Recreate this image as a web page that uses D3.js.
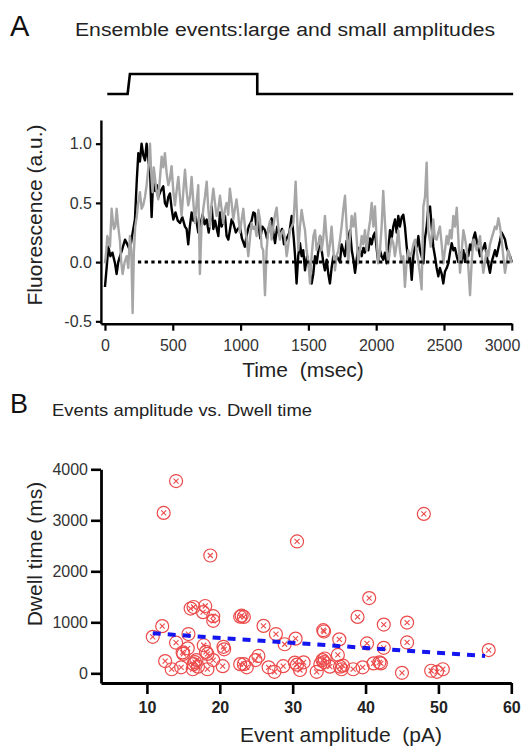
<!DOCTYPE html>
<html>
<head>
<meta charset="utf-8">
<script src="https://cdn.jsdelivr.net/npm/d3@7"></script>
<style>
  body { margin: 0; background: #fff; }
  svg text { font-family: "Liberation Sans", Arial, sans-serif; white-space: pre; }
</style>
</head>
<body>
<div id="chart"></div>
<script>
// ---- data ----
// stimulus step (time in ms, level 0/1)
const stimTime = [17, 167, 184, 1123, 1123, 3010];
const stimLevel = [0, 0, 1, 1, 0, 0];

// ensemble trace, large amplitude events (black) [ms, a.u.]
const blackTrace = [[0,-0.21],[12,-0.05],[25,0.13],[40,0.05],[55,0.08],[74,-0.01],[86,-0.1],[98,0.0],[111,0.05],[125,0.1],[148,0.19],[165,0.15],[184,0.1],[200,0.22],[221,0.36],[235,0.7],[246,0.92],[258,0.85],[270,1.0],[283,0.9],[295,0.86],[307,1.0],[320,0.85],[332,0.78],[344,0.38],[356,0.72],[370,0.6],[382,0.65],[393,0.55],[410,0.6],[430,0.64],[442,0.5],[455,0.47],[467,0.55],[479,0.58],[492,0.45],[504,0.36],[520,0.42],[537,0.35],[553,0.33],[570,0.38],[590,0.3],[602,0.28],[614,0.15],[626,0.3],[639,0.42],[652,0.35],[670,0.38],[688,0.25],[700,0.3],[720,0.4],[735,0.32],[750,0.36],[765,0.25],[787,0.47],[799,0.28],[812,0.35],[836,0.22],[848,0.42],[860,0.3],[885,0.39],[897,0.22],[910,0.19],[934,0.36],[946,0.33],[965,0.25],[980,0.28],[995,0.3],[1010,0.2],[1032,0.13],[1044,0.22],[1060,0.3],[1081,0.35],[1094,0.42],[1106,0.41],[1118,0.28],[1130,0.34],[1145,0.2],[1160,0.3],[1180,0.27],[1195,0.2],[1210,0.3],[1229,0.37],[1242,0.25],[1254,0.16],[1270,0.3],[1290,0.22],[1305,0.28],[1320,0.15],[1340,0.2],[1360,0.25],[1377,0.39],[1392,0.2],[1402,0.05],[1413,-0.18],[1425,0.05],[1438,0.16],[1450,0.05],[1462,0.1],[1475,-0.07],[1490,0.05],[1500,0.0],[1512,-0.1],[1524,-0.18],[1536,-0.1],[1549,0.05],[1561,-0.01],[1574,0.1],[1586,0.22],[1598,0.1],[1610,0.0],[1622,-0.07],[1635,0.02],[1647,-0.1],[1659,-0.18],[1671,-0.05],[1684,0.05],[1696,-0.02],[1709,0.05],[1733,0.0],[1745,0.15],[1757,0.1],[1770,0.05],[1782,0.18],[1794,0.2],[1807,0.27],[1820,0.1],[1832,0.02],[1844,-0.09],[1856,0.02],[1868,0.12],[1881,0.1],[1893,0.05],[1905,0.12],[1917,0.08],[1930,0.16],[1942,0.1],[1955,0.2],[1967,0.15],[1979,0.22],[1991,0.25],[2003,0.12],[2015,0.0],[2028,0.1],[2040,0.05],[2052,0.02],[2065,0.08],[2077,-0.01],[2089,0.1],[2102,0.27],[2114,0.2],[2126,0.3],[2139,0.36],[2151,0.25],[2163,0.39],[2175,0.3],[2188,0.38],[2200,0.4],[2212,0.3],[2225,0.13],[2237,0.0],[2249,0.05],[2262,-0.15],[2274,0.05],[2286,0.16],[2299,0.13],[2311,0.22],[2323,0.1],[2335,0.05],[2348,-0.01],[2360,0.2],[2372,0.3],[2384,0.45],[2397,0.47],[2409,0.3],[2421,0.13],[2433,0.05],[2446,-0.05],[2458,-0.12],[2470,-0.05],[2483,-0.1],[2495,-0.18],[2507,-0.08],[2520,-0.05],[2532,-0.01],[2544,0.08],[2557,0.16],[2569,0.1],[2581,0.12],[2594,0.05],[2606,0.0],[2618,0.08],[2631,0.02],[2643,0.1],[2655,0.0],[2668,0.08],[2679,0.05],[2692,0.15],[2704,0.1],[2717,0.2],[2729,0.25],[2741,0.18],[2753,0.12],[2766,0.05],[2778,0.1],[2790,0.12],[2802,0.16],[2815,0.05],[2827,-0.02],[2839,-0.09],[2851,0.0],[2864,0.05],[2876,0.1],[2888,0.05],[2901,0.12],[2913,0.18],[2925,0.25],[2938,0.22],[2950,0.19],[2962,0.12],[2975,0.08],[2987,0.05],[3000,0.0]];

// ensemble trace, small amplitude events (grey) [ms, a.u.]
const greyTrace = [[0,-0.01],[10,0.1],[17,0.22],[27,0.18],[37,0.13],[49,0.45],[58,0.35],[66,0.28],[76,0.3],[86,0.45],[98,0.3],[111,0.17],[120,0.0],[130,-0.1],[145,0.0],[160,0.05],[172,-0.05],[184,0.22],[194,0.1],[204,-0.43],[213,0.08],[223,0.3],[233,0.37],[245,0.5],[258,0.59],[270,0.45],[282,0.48],[295,0.55],[307,0.65],[320,0.8],[332,1.0],[341,0.75],[351,0.59],[360,0.8],[368,0.72],[380,0.6],[393,0.53],[405,0.7],[418,0.89],[430,0.8],[442,0.92],[455,0.75],[467,0.65],[479,0.7],[491,0.81],[504,0.6],[516,0.48],[528,0.6],[541,0.72],[553,0.55],[565,0.39],[578,0.6],[590,0.78],[602,0.6],[614,0.48],[627,0.55],[639,0.72],[652,0.5],[664,0.33],[676,0.5],[688,0.65],[700,-0.1],[712,0.3],[725,0.45],[737,0.55],[750,0.68],[762,0.45],[774,0.3],[787,0.5],[799,0.62],[811,0.5],[823,0.39],[836,0.45],[848,0.56],[860,0.45],[872,0.33],[885,0.45],[897,0.5],[909,0.4],[921,0.62],[934,0.5],[946,0.36],[958,0.45],[970,0.53],[983,0.4],[995,0.25],[1007,0.35],[1020,0.45],[1032,0.3],[1044,0.2],[1057,0.05],[1069,0.2],[1081,0.33],[1094,0.28],[1106,0.3],[1118,0.22],[1131,0.44],[1143,0.36],[1155,0.13],[1167,0.1],[1180,-0.28],[1192,0.1],[1204,0.27],[1217,0.35],[1229,0.19],[1241,0.3],[1254,0.4],[1266,0.46],[1278,0.3],[1290,0.19],[1303,0.25],[1315,0.27],[1327,0.2],[1340,0.05],[1352,0.15],[1364,0.27],[1377,0.3],[1389,0.33],[1398,0.5],[1406,0.68],[1416,0.4],[1426,0.1],[1438,0.3],[1450,0.44],[1462,0.35],[1475,0.27],[1487,0.1],[1500,0.0],[1512,-0.18],[1524,0.05],[1537,0.22],[1549,0.27],[1561,0.1],[1574,0.15],[1586,0.22],[1598,0.1],[1610,0.2],[1622,0.39],[1635,0.2],[1647,0.05],[1659,0.15],[1671,0.3],[1684,0.1],[1696,-0.07],[1708,0.05],[1721,0.1],[1733,0.19],[1745,0.3],[1758,0.45],[1770,0.56],[1782,0.3],[1794,-0.01],[1806,0.2],[1819,0.39],[1831,0.3],[1844,0.41],[1856,0.2],[1868,-0.01],[1881,0.1],[1893,0.22],[1905,0.15],[1917,0.27],[1930,0.1],[1942,0.25],[1955,0.35],[1967,0.5],[1979,0.3],[1991,0.47],[2003,0.2],[2015,-0.01],[2028,0.1],[2040,0.3],[2052,0.6],[2064,0.35],[2077,0.1],[2089,-0.01],[2101,0.1],[2114,0.2],[2126,0.16],[2138,0.05],[2151,0.15],[2163,0.27],[2175,0.1],[2188,0.0],[2200,0.05],[2212,-0.21],[2224,0.0],[2237,0.1],[2249,0.05],[2262,0.08],[2274,0.15],[2286,0.19],[2298,0.1],[2311,0.0],[2323,-0.1],[2335,-0.23],[2348,0.47],[2360,0.55],[2372,0.84],[2384,0.27],[2402,0.13],[2412,0.25],[2421,0.36],[2433,0.2],[2446,0.19],[2458,0.25],[2470,0.3],[2483,0.15],[2495,-0.01],[2507,0.1],[2520,0.22],[2532,0.15],[2544,0.27],[2556,0.2],[2569,0.39],[2581,0.3],[2594,0.46],[2606,0.2],[2618,-0.09],[2631,0.1],[2643,0.27],[2655,0.2],[2668,0.1],[2680,-0.05],[2692,-0.28],[2704,0.0],[2717,0.19],[2729,0.15],[2741,0.1],[2754,0.15],[2766,0.22],[2778,0.05],[2790,-0.09],[2802,0.0],[2815,0.1],[2827,0.05],[2839,0.15],[2851,0.2],[2864,0.25],[2876,0.3],[2888,0.28],[2901,0.37],[2913,0.3],[2925,0.19],[2937,0.05],[2950,-0.09],[2962,0.0],[2974,0.1],[2987,0.05],[2999,-0.01]];

// zero baseline (dotted)
const baselineTime = [243, 3010];

// panel B: event amplitude (pA) vs dwell time (ms)
const events = [[14.0,3770],[12.3,3145],[18.7,2310],[16.4,1300],[16.0,1270],[18.0,1320],[17.7,1200],[19.1,1120],[19.1,1030],[12.1,925],[10.8,715],[15.7,770],[14.0,600],[14.9,410],[15.0,380],[15.6,490],[17.8,550],[18.1,420],[18.3,380],[20.5,520],[20.6,470],[19.1,260],[12.5,240],[13.4,80],[14.7,117],[16.4,180],[16.6,220],[16.8,260],[16.3,80],[17.0,130],[18.3,80],[20.4,140],[22.8,1110],[22.8,180],[30.6,2585],[23.3,1105],[23.0,1130],[26.0,930],[27.7,770],[28.9,570],[30.4,680],[34.2,845],[34.3,820],[36.4,665],[38.9,1105],[40.5,1475],[40.2,585],[23.3,180],[23.7,117],[24.9,260],[25.3,340],[26.7,117],[27.5,30],[28.7,140],[30.3,210],[30.6,170],[31.0,65],[31.5,215],[33.3,30],[33.8,180],[34.1,260],[34.3,220],[34.4,290],[35.1,130],[36.2,360],[36.5,130],[36.7,80],[36.9,150],[38.3,80],[39.6,117],[41.1,195],[48.0,3125],[42.5,955],[45.7,995],[45.7,605],[42.5,500],[42.1,195],[41.9,215],[45.0,10],[49.0,50],[49.8,30],[50.6,80],[56.9,455]];

// linear fit end points
const fitAmp = [10.8, 56.4];
const fitDwell = [784, 339];

// tick values
const timeTicks = [0, 500, 1000, 1500, 2000, 2500, 3000];
const fluorTicks = [-0.5, 0.0, 0.5, 1.0];
const ampTicks = [10, 20, 30, 40, 50, 60];
const dwellTicks = [0, 1000, 2000, 3000, 4000];

const W = 524, H = 749;
const svg = d3.select("#chart").append("svg")
    .attr("width", W)
    .attr("height", H)
    .style("background", "#fff");

// ================= Panel A =================
const xA = d3.scaleLinear().domain([-30, 3000]).range([100.9, 511.8]);
const yA = d3.scaleLinear().domain([-0.52, 1.2]).range([323.7, 120]);
const yStim = d3.scaleLinear().domain([0, 1]).range([94, 74]);

svg.append("text")
    .attr("x", 10).attr("y", 36)
    .attr("font-size", 29)
    .attr("fill", "#111")
    .text("A");

svg.append("text")
    .attr("x", 75).attr("y", 36)
    .attr("font-size", 18)
    .attr("textLength", 420)
    .attr("lengthAdjust", "spacingAndGlyphs")
    .attr("fill", "#222")
    .text("Ensemble events:large and small amplitudes");

// stimulus
svg.append("path")
    .datum(stimTime.map((t, i) => [t, stimLevel[i]]))
    .attr("fill", "none")
    .attr("stroke", "#000")
    .attr("stroke-width", 2.6)
    .attr("d", d3.line().x(d => xA(d[0])).y(d => yStim(d[1])));

// traces
const lineA = d3.line().x(d => xA(d[0])).y(d => yA(d[1]));

svg.append("path")
    .datum(blackTrace)
    .attr("fill", "none")
    .attr("stroke", "#000")
    .attr("stroke-width", 2.4)
    .attr("stroke-linejoin", "round")
    .attr("d", lineA);

svg.append("path")
    .datum(greyTrace)
    .attr("fill", "none")
    .attr("stroke", "#a6a6a6")
    .attr("stroke-width", 2.4)
    .attr("stroke-linejoin", "round")
    .attr("d", lineA);

// dotted zero line
svg.append("line")
    .attr("x1", xA(baselineTime[0])).attr("x2", xA(baselineTime[1]))
    .attr("y1", yA(0)).attr("y2", yA(0))
    .attr("stroke", "#000")
    .attr("stroke-width", 3)
    .attr("stroke-dasharray", "3.3,3.4");

// axes
const axA_x = svg.append("g")
    .attr("transform", `translate(0,${yA(-0.52)})`)
    .call(d3.axisBottom(xA).tickValues(timeTicks).tickFormat(d3.format("d")).tickSize(7).tickPadding(9).tickSizeOuter(0));
const axA_y = svg.append("g")
    .attr("transform", `translate(${xA(-30)},0)`)
    .call(d3.axisLeft(yA).tickValues(fluorTicks).tickFormat(d => d.toFixed(1)).tickSize(5).tickPadding(4).tickSizeOuter(0));

[axA_x, axA_y].forEach(g => {
    g.select(".domain").attr("stroke", "#000").attr("stroke-width", 2.4);
    g.selectAll(".tick line").attr("stroke", "#000").attr("stroke-width", 2.2);
    g.selectAll(".tick text").attr("font-size", 16).attr("fill", "#333")
        .style("font-family", "'Liberation Sans', Arial, sans-serif");
});
// last time label sits left of its tick, as in the original
axA_x.selectAll(".tick text").filter(d => d === 3000)
    .attr("text-anchor", "end").attr("dx", 8);

svg.append("text")
    .attr("x", 303).attr("y", 377)
    .attr("text-anchor", "middle")
    .attr("font-size", 21)
    .attr("fill", "#222")
    .text("Time  (msec)");

svg.append("text")
    .attr("transform", "translate(42,215) rotate(-90)")
    .attr("text-anchor", "middle")
    .attr("font-size", 21)
    .attr("fill", "#222")
    .text("Fluorescence (a.u.)");

// ================= Panel B =================
const xB = d3.scaleLinear().domain([3.7, 60]).range([101, 511.3]);
const yB = d3.scaleLinear().domain([-190, 4000]).range([683, 469.3]);

svg.append("text")
    .attr("x", 10).attr("y", 413)
    .attr("font-size", 27)
    .attr("fill", "#111")
    .text("B");

svg.append("text")
    .attr("x", 52).attr("y", 416)
    .attr("font-size", 17)
    .attr("textLength", 260)
    .attr("lengthAdjust", "spacingAndGlyphs")
    .attr("fill", "#222")
    .text("Events amplitude vs. Dwell time");

// markers: circle with x
const marks = svg.append("g").selectAll("g")
    .data(events)
    .enter().append("g")
    .attr("transform", d => `translate(${xB(d[0])},${yB(d[1])})`);

marks.append("circle")
    .attr("r", 6.5)
    .attr("fill", "none")
    .attr("stroke", "#ec4a4a")
    .attr("stroke-width", 1.2);
marks.append("path")
    .attr("d", "M-2.5,-2.5L2.5,2.5M-2.5,2.5L2.5,-2.5")
    .attr("stroke", "#ec4a4a")
    .attr("stroke-width", 1.1);

// fit line
svg.append("path")
    .datum(fitAmp.map((a, i) => [a, fitDwell[i]]))
    .attr("fill", "none")
    .attr("stroke", "#1515f0")
    .attr("stroke-width", 4)
    .attr("stroke-dasharray", "8,7")
    .attr("d", d3.line().x(d => xB(d[0])).y(d => yB(d[1])));

const axB_x = svg.append("g")
    .attr("transform", `translate(0,${yB(-190)})`)
    .call(d3.axisBottom(xB).tickValues(ampTicks).tickSize(11).tickPadding(8).tickSizeOuter(0));
const axB_y = svg.append("g")
    .attr("transform", `translate(${xB(3.7)},0)`)
    .call(d3.axisLeft(yB).tickValues(dwellTicks).tickFormat(d3.format("d")).tickSize(10).tickPadding(3).tickSizeOuter(0));

[axB_x, axB_y].forEach(g => {
    g.select(".domain").attr("stroke", "#000").attr("stroke-width", 2.8);
    g.selectAll(".tick line").attr("stroke", "#000").attr("stroke-width", 2.6);
    g.selectAll(".tick text").attr("font-size", 16).attr("fill", "#333")
        .style("font-family", "'Liberation Sans', Arial, sans-serif");
});
axB_x.selectAll(".tick text").attr("font-weight", "bold").attr("fill", "#222");

svg.append("text")
    .attr("x", 341).attr("y", 742)
    .attr("text-anchor", "middle")
    .attr("font-size", 21)
    .attr("fill", "#222")
    .text("Event amplitude  (pA)");

svg.append("text")
    .attr("transform", "translate(42,554) rotate(-90)")
    .attr("text-anchor", "middle")
    .attr("font-size", 21)
    .attr("fill", "#222")
    .text("Dwell time (ms)");
</script>
</body>
</html>
